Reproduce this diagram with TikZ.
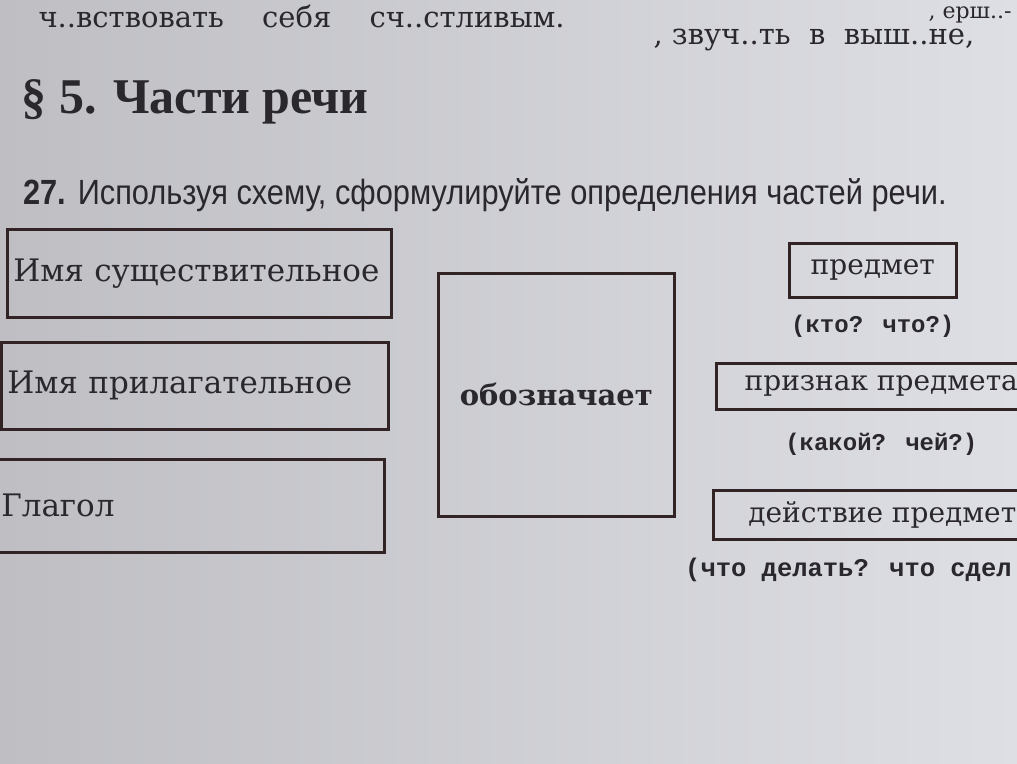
\documentclass[tikz,border=0pt]{standalone}
\usepackage{fontspec}
\setmainfont{DejaVu Serif}
\newfontfamily\headfont{Liberation Serif}
\newfontfamily\taskfont[FakeStretch=0.88]{Liberation Sans}
\newfontfamily\hintfont{Liberation Mono}
\usetikzlibrary{positioning}
\definecolor{paper}{RGB}{222,223,228}
\definecolor{paperdark}{RGB}{190,190,195}
\definecolor{ink}{RGB}{42,40,44}
\definecolor{frame}{RGB}{50,36,36}

\begin{document}
\begin{tikzpicture}[x=1pt,y=-1pt,text=ink]
  \tikzstyle{partbox}=[draw=frame,line width=2.6pt,anchor=north west,align=left,inner xsep=6pt,font=\fontsize{31}{36}\selectfont]
  \tikzstyle{meanbox}=[draw=frame,line width=2.6pt,anchor=north west,font=\fontsize{28}{34}\selectfont]
  \tikzstyle{hint}=[inner sep=0pt,font=\hintfont\bfseries\fontsize{24}{28}\selectfont]
  \tikzstyle{prevline}=[anchor=base west,font=\fontsize{29}{32}\selectfont]

  \useasboundingbox (0,0) rectangle (1017,763);
  \clip (0,0) rectangle (1017,763);
  \shade[left color=paperdark,right color=paper] (0,0) rectangle (1017,763);

  % previous exercise, cut off by the photo
  \node[prevline] (prevl) at (35,27) {ч..вствовать \quad себя \quad сч..стливым.};
  \node[prevline] (prevr) at (650,44) {, звуч..ть \ в \ выш..не,};
  \node[prevline,font=\fontsize{22}{26}\selectfont] (prevt) at (925,18) {, ерш..-};

  \node[anchor=base west,font=\headfont\bfseries\fontsize{50}{56}\selectfont] (title) at (18,113) {§ 5. Части речи};
  \node[anchor=base west,font=\taskfont\fontsize{35}{40}\selectfont] (task) at (20,204) {\textbf{27.} Используя схему, сформулируйте определения частей речи.};

  % parts of speech
  \node[partbox,text width=372pt,minimum height=88pt] (noun) at (6,228) {\mbox{Имя существительное}};
  \node[partbox,text width=375pt,minimum height=87pt] (adj)  at (0,341) {\mbox{Имя прилагательное}};
  \node[partbox,text width=377pt,minimum height=93pt] (verb) at (-6,458) {Глагол};

  \node[meanbox,minimum width=236pt,minimum height=243pt,font=\bfseries\fontsize{29}{34}\selectfont] (means) at (437,272) {обозначает};

  % meanings
  \node[meanbox,minimum width=167pt,minimum height=54pt] (obj)  at (788,242) {предмет};
  \node[meanbox,minimum width=330pt,minimum height=46pt] (attr) at (715,362) {признак предмета};
  \node[meanbox,minimum width=338pt,minimum height=49pt] (act)  at (712,489) {действие предмет};

  \node[hint] (objq)  [below=16pt of obj]  {(кто? что?)};
  \node[hint] (attrq) [below=22pt of attr] {(какой? чей?)};
  \node[hint,anchor=west,font=\hintfont\bfseries\fontsize{25.5}{28}\selectfont] (actq) at (685,570) {(что делать? что сдел};
\end{tikzpicture}
\end{document}
